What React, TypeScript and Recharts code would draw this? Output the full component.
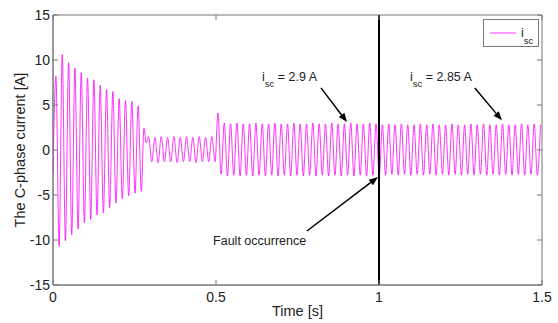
import React from "react";
import {
  LineChart,
  Line,
  XAxis,
  YAxis,
  ReferenceLine,
  ReferenceDot,
  ReferenceArea,
  Legend,
} from "recharts";

// time between successive current peaks (half a cycle), in seconds
const HALF_PERIOD = 0.0097;

// start-up transient: value at t = 0, then alternating peaks
const startCurrent = -2.5;
const startupStart = 0.009;
const startupPeaks = [
  8.2, -10.7, 10.6, -10.1, 9.7, -9.4, 9.1, -8.8, 8.6, -8.1,
  8.0, -7.7, 7.8, -7.2, 7.2, -7.0, 6.7, -6.4, 6.5, -5.9,
  5.7, -5.4, 5.5, -5.1, 5.4, -4.8, 4.9, -4.6,
];

// drop to the low-current state
const dropTimes = [0.279, 0.286];
const dropValues = [2.4, 0.8];

// low-current oscillation up to 0.5 s
const idleStart = 0.2933;
const idlePeaks = [
  1.5, -1.3, 1.4, -1.4, 1.5, -1.3, 1.4, -1.3, 1.5, -1.4,
  1.4, -1.3, 1.5, -1.3, 1.4, -1.4, 1.5, -1.3, 1.4, -1.3,
  1.5, -1.3,
];

// loaded state, before and after the fault at 1 s
const preFaultStart = 0.506;
const preFaultPeaks = [
  4.1, -2.7, 3.0, -2.9, 2.9, -2.8, 3.0, -2.9, 2.9, -2.8,
  2.9, -2.9, 3.0, -2.8, 2.9, -2.9, 2.9, -2.8, 3.0, -2.9,
  2.9, -2.8, 2.9, -2.9, 3.0, -2.8, 2.9, -2.9, 2.9, -2.8,
  3.0, -2.9, 2.9, -2.8, 2.9, -2.9, 3.0, -2.8, 2.9, -2.9,
  2.9, -2.8, 3.0, -2.9, 2.9, -2.8, 2.9, -2.9, 3.0, -2.8,
  2.9, -2.9,
];
const postFaultPeaks = [
  2.8, -2.8, 2.9, -2.7, 2.8, -2.8, 2.9, -2.7, 2.8, -2.8,
  2.8, -2.7, 2.9, -2.8, 2.8, -2.7, 2.9, -2.8, 2.8, -2.7,
  2.8, -2.8, 2.9, -2.7, 2.8, -2.8, 2.8, -2.7, 2.9, -2.8,
  2.8, -2.7, 2.9, -2.8, 2.8, -2.7, 2.8, -2.8, 2.9, -2.7,
  2.8, -2.8, 2.8, -2.7, 2.9, -2.8, 2.8, -2.7, 2.9, -2.8,
  2.8,
];

const xTicks = [0, 0.5, 1, 1.5];
const yTicks = [-15, -10, -5, 0, 5, 10, 15];
const faultTime = 1;

// annotation arrows (tail -> head) in data units
const arrows = [
  { from: { x: 0.822, y: 6.9 }, to: { x: 0.902, y: 3.1 } },
  { from: { x: 1.294, y: 6.9 }, to: { x: 1.377, y: 3.3 } },
  { from: { x: 0.779, y: -9.0 }, to: { x: 0.997, y: -3.0 } },
];

const notes = [
  { x: 0.641, y: 7.7, sub: true, text: " = 2.9 A" },
  { x: 1.095, y: 7.7, sub: true, text: " = 2.85 A" },
  { x: 0.491, y: -10.55, sub: false, text: "Fault occurrence" },
];

const peakSamples = (start: number, values: number[]) =>
  values.map((v, k) => ({ t: +(start + k * HALF_PERIOD).toFixed(4), i: v }));

const data = [
  { t: 0, i: startCurrent },
  ...peakSamples(startupStart, startupPeaks),
  ...dropTimes.map((t, k) => ({ t, i: dropValues[k] })),
  ...peakSamples(idleStart, idlePeaks),
  ...peakSamples(preFaultStart, preFaultPeaks),
  ...peakSamples(preFaultStart + preFaultPeaks.length * HALF_PERIOD, postFaultPeaks),
];

const W = 558;
const H = 323;
const MARGIN = { top: 15, right: 16, bottom: 0, left: 0 };
const Y_AXIS_W = 53;
const X_AXIS_H = 38;
// plot box edges, used for the inward MATLAB-style tick marks
const PLOT_LEFT = MARGIN.left + Y_AXIS_W;
const PLOT_RIGHT = W - MARGIN.right;
const PLOT_TOP = MARGIN.top;
const PLOT_BOTTOM = H - MARGIN.bottom - X_AXIS_H;
const TICK_LEN = 5;

const FONT = "'Liberation Sans', Arial, sans-serif";
const FRAME = "#777";
const INK = "#222";

const XTick = (p: any) => (
  <g>
    <line x1={p.x} x2={p.x} y1={PLOT_BOTTOM} y2={PLOT_BOTTOM - TICK_LEN} stroke={FRAME} />
    <line x1={p.x} x2={p.x} y1={PLOT_TOP} y2={PLOT_TOP + TICK_LEN} stroke={FRAME} />
    <text x={p.x} y={p.y} dy="0.71em" textAnchor="middle" fontSize={14} fill={INK} fontFamily={FONT}>
      {p.payload.value}
    </text>
  </g>
);

const YTick = (p: any) => (
  <g>
    <line x1={PLOT_LEFT} x2={PLOT_LEFT + TICK_LEN} y1={p.y} y2={p.y} stroke={FRAME} />
    <line x1={PLOT_RIGHT} x2={PLOT_RIGHT - TICK_LEN} y1={p.y} y2={p.y} stroke={FRAME} />
    <text x={p.x} y={p.y} dy="0.355em" textAnchor="end" fontSize={14} fill={INK} fontFamily={FONT}>
      {p.payload.value}
    </text>
  </g>
);

const Arrow = (p: any) => {
  const { x1, y1, x2, y2 } = p;
  const a = Math.atan2(y2 - y1, x2 - x1);
  const len = 9;
  const half = 3.5;
  const bx = x2 - len * Math.cos(a);
  const by = y2 - len * Math.sin(a);
  const pts = [
    [x2, y2],
    [bx + half * Math.sin(a), by - half * Math.cos(a)],
    [bx - half * Math.sin(a), by + half * Math.cos(a)],
  ]
    .map((q) => q.join(","))
    .join(" ");
  return (
    <g>
      <line x1={x1} y1={y1} x2={bx} y2={by} stroke="#000" strokeWidth={1.5} />
      <polygon points={pts} fill="#000" />
    </g>
  );
};

const noteShape = (n: (typeof notes)[number]) => (p: any) =>
  (
    <text x={p.cx} y={p.cy} fontSize={12.5} fill={INK} fontFamily={FONT}>
      {n.sub ? (
        <>
          <tspan>i</tspan>
          <tspan dy={6} fontSize={9.5}>sc</tspan>
          <tspan dy={-6}>{n.text}</tspan>
        </>
      ) : (
        n.text
      )}
    </text>
  );

const LegendBox = () => (
  <svg width={56} height={28} style={{ display: "block" }}>
    <rect x={0.5} y={0.5} width={55} height={27} fill="#fff" stroke={FRAME} />
    <line x1={7} x2={33} y1={14} y2={14} stroke="#ff00ff" strokeWidth={0.8} />
    <text x={38} y={18} fontSize={12.5} fill={INK} fontFamily={FONT}>
      i
      <tspan dy={6.5} fontSize={9.5}>
        sc
      </tspan>
    </text>
  </svg>
);

export default function App() {
  return (
    <div style={{ position: "absolute", left: 0, top: 0, background: "#fff" }}>
      <LineChart width={W} height={H} data={data} margin={MARGIN} style={{ fontFamily: FONT }}>
        <XAxis
          dataKey="t"
          type="number"
          domain={[0, 1.5]}
          ticks={xTicks}
          allowDataOverflow
          height={X_AXIS_H}
          stroke={FRAME}
          tickLine={false}
          tickSize={0}
          tickMargin={7}
          tick={XTick}
          label={{ value: "Time [s]", position: "insideBottom", offset: 7, fill: INK, fontSize: 14.5 }}
        />
        <YAxis
          type="number"
          domain={[-15, 15]}
          ticks={yTicks}
          allowDataOverflow
          width={Y_AXIS_W}
          stroke={FRAME}
          tickLine={false}
          tickSize={0}
          tickMargin={3}
          tick={YTick}
          label={{
            value: "The C-phase current [A]",
            angle: -90,
            position: "center",
            dx: -7,
            fill: INK,
            fontSize: 14.5,
          }}
        />

        {/* axes box */}
        <ReferenceArea x1={0} x2={1.5} y1={-15} y2={15} fill="none" stroke={FRAME} strokeWidth={1} />

        <Line
          type="monotone"
          dataKey="i"
          name="isc"
          stroke="#ff00ff"
          strokeWidth={0.8}
          dot={false}
          activeDot={false}
          isAnimationActive={false}
        />
        <ReferenceLine x={faultTime} stroke="#000" strokeWidth={2} />
        {arrows.map((a, k) => (
          <ReferenceLine key={`a${k}`} segment={[a.from, a.to]} shape={Arrow} />
        ))}
        {notes.map((n, k) => (
          <ReferenceDot key={`n${k}`} x={n.x} y={n.y} r={0} shape={noteShape(n)} />
        ))}
        <Legend
          layout="vertical"
          align="center"
          verticalAlign="middle"
          content={LegendBox}
          wrapperStyle={{ left: 483, top: 19, width: 56 }}
        />
      </LineChart>
    </div>
  );
}
